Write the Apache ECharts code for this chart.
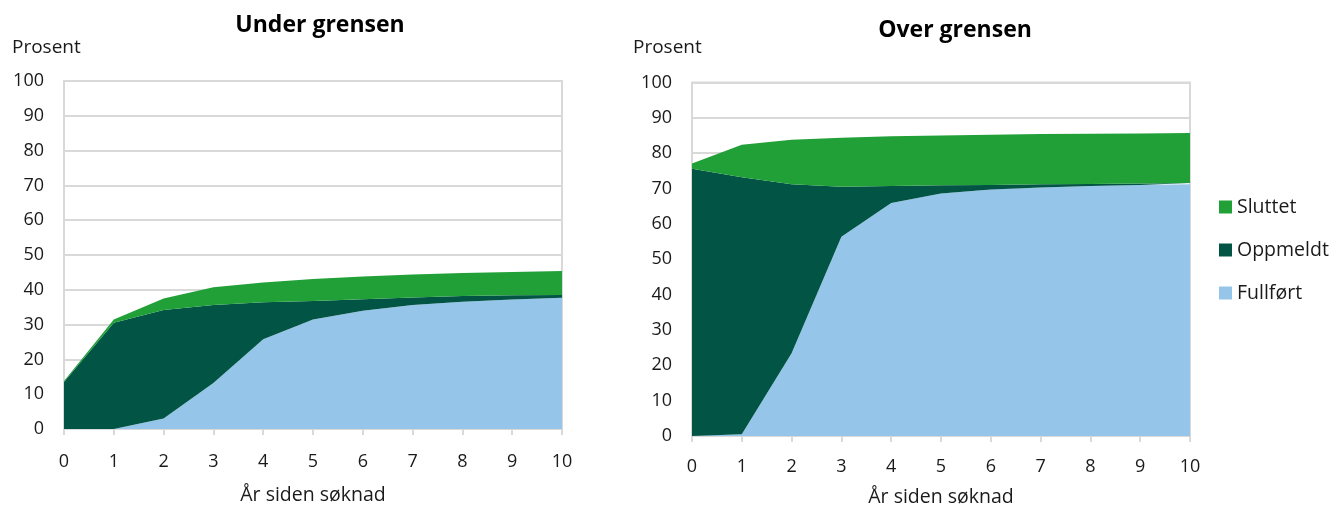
<!DOCTYPE html>
<html>
<head>
<meta charset="utf-8">
<script src="https://cdn.jsdelivr.net/npm/echarts@6/dist/echarts.min.js"></script>
<style>html,body{margin:0;padding:0;background:#fff}#c{width:1333px;height:506px}</style>
</head>
<body>
<div id="c"></div>
<script>
const years = ['0','1','2','3','4','5','6','7','8','9','10'];
const seriesNames = ['Fullført','Oppmeldt','Sluttet'];
const colors = {'Sluttet':'#21a038','Oppmeldt':'#025544','Fullført':'#95c6ea'};
// Under grensen (stacked shares, percent)
const underFullfort = [0,0,3.0,13.2,25.8,31.5,34.0,35.6,36.6,37.2,37.7];
const underOppmeldt = [13.5,30.5,31.2,22.4,10.6,5.3,3.3,2.2,1.6,1.2,0.8];
const underSluttet  = [0.3,1.0,3.3,5.1,5.7,6.3,6.5,6.6,6.6,6.7,6.9];
// Over grensen
const overFullfort = [0,0.5,23.4,56.4,65.9,68.6,69.7,70.3,70.7,71.0,71.2];
const overOppmeldt = [75.6,72.7,47.8,14.1,4.8,2.3,1.3,0.9,0.6,0.4,0.4];
const overSluttet  = [1.5,9.2,12.6,13.9,14.1,14.1,14.2,14.2,14.2,14.2,14.1];
const titles = ['Under grensen','Over grensen'];
const yTicks = [0,100,10];

const FONT = '"Open Sans", "Noto Sans", sans-serif';
const grey = '#d9d9d9';
const chart = echarts.init(document.getElementById('c'));

function xAx(i, gap, margin){
  return {type:'category', gridIndex:i, data:years, boundaryGap:false,
    axisLine:{show:true,lineStyle:{color:grey,width:2}},
    axisTick:{show:true,alignWithLabel:true,length:6,lineStyle:{color:grey,width:2}},
    axisLabel:{color:'#1a1a1a',fontSize:18,fontFamily:FONT,margin:margin},
    name:'År siden søknad', nameLocation:'middle', nameGap:gap,
    nameTextStyle:{color:'#1a1a1a',fontSize:19.5,fontFamily:FONT}};
}
function yAx(i){
  return {type:'value', gridIndex:i, min:yTicks[0], max:yTicks[1], interval:yTicks[2],
    axisLine:{show:false}, axisTick:{show:false},
    axisLabel:{color:'#1a1a1a',fontSize:18,fontFamily:FONT,margin:20},
    splitLine:{show:true,lineStyle:{color:grey,width:2}}};
}
function ser(name, data, i){
  return {name:name, type:'line', stack:'s'+i, xAxisIndex:i, yAxisIndex:i, data:data,
    symbol:'none', lineStyle:{width:0}, areaStyle:{color:colors[name],opacity:1},
    itemStyle:{color:colors[name]}, z:2, silent:true};
}
chart.setOption({
  animation:false,
  textStyle:{fontFamily:FONT},
  title:[
    {text:titles[0], left:315, top:9, textAlign:'center', textStyle:{fontSize:23,fontWeight:'bold',color:'#000',fontFamily:FONT}},
    {text:titles[1], left:950, top:14, textAlign:'center', textStyle:{fontSize:23,fontWeight:'bold',color:'#000',fontFamily:FONT}}
  ],
  graphic:[
    {type:'text', left:12, top:38, style:{text:'Prosent', fontSize:19, fontFamily:FONT, fill:'#1a1a1a'}},
    {type:'text', left:633, top:38, style:{text:'Prosent', fontSize:19, fontFamily:FONT, fill:'#1a1a1a'}}
  ],
  legend:{orient:'vertical', left:1214, top:192, itemGap:23, itemWidth:13, itemHeight:13,
    icon:'rect', data:['Sluttet','Oppmeldt','Fullført'],
    textStyle:{fontSize:19.5,fontFamily:FONT,color:'#1a1a1a'}},
  grid:[
    {left:64, top:81, width:498, height:348, show:true, borderColor:grey, borderWidth:2, backgroundColor:'transparent', outerBoundsMode:'none', containLabel:false},
    {left:692, top:82.5, width:498, height:353.5, show:true, borderColor:grey, borderWidth:2, backgroundColor:'transparent', outerBoundsMode:'none', containLabel:false}
  ],
  xAxis:[xAx(0,56,24), xAx(1,51,22)],
  yAxis:[yAx(0), yAx(1)],
  series:[
    ser('Fullført', underFullfort, 0), ser('Oppmeldt', underOppmeldt, 0), ser('Sluttet', underSluttet, 0),
    ser('Fullført', overFullfort, 1), ser('Oppmeldt', overOppmeldt, 1), ser('Sluttet', overSluttet, 1)
  ]
});
</script>
</body>
</html>
